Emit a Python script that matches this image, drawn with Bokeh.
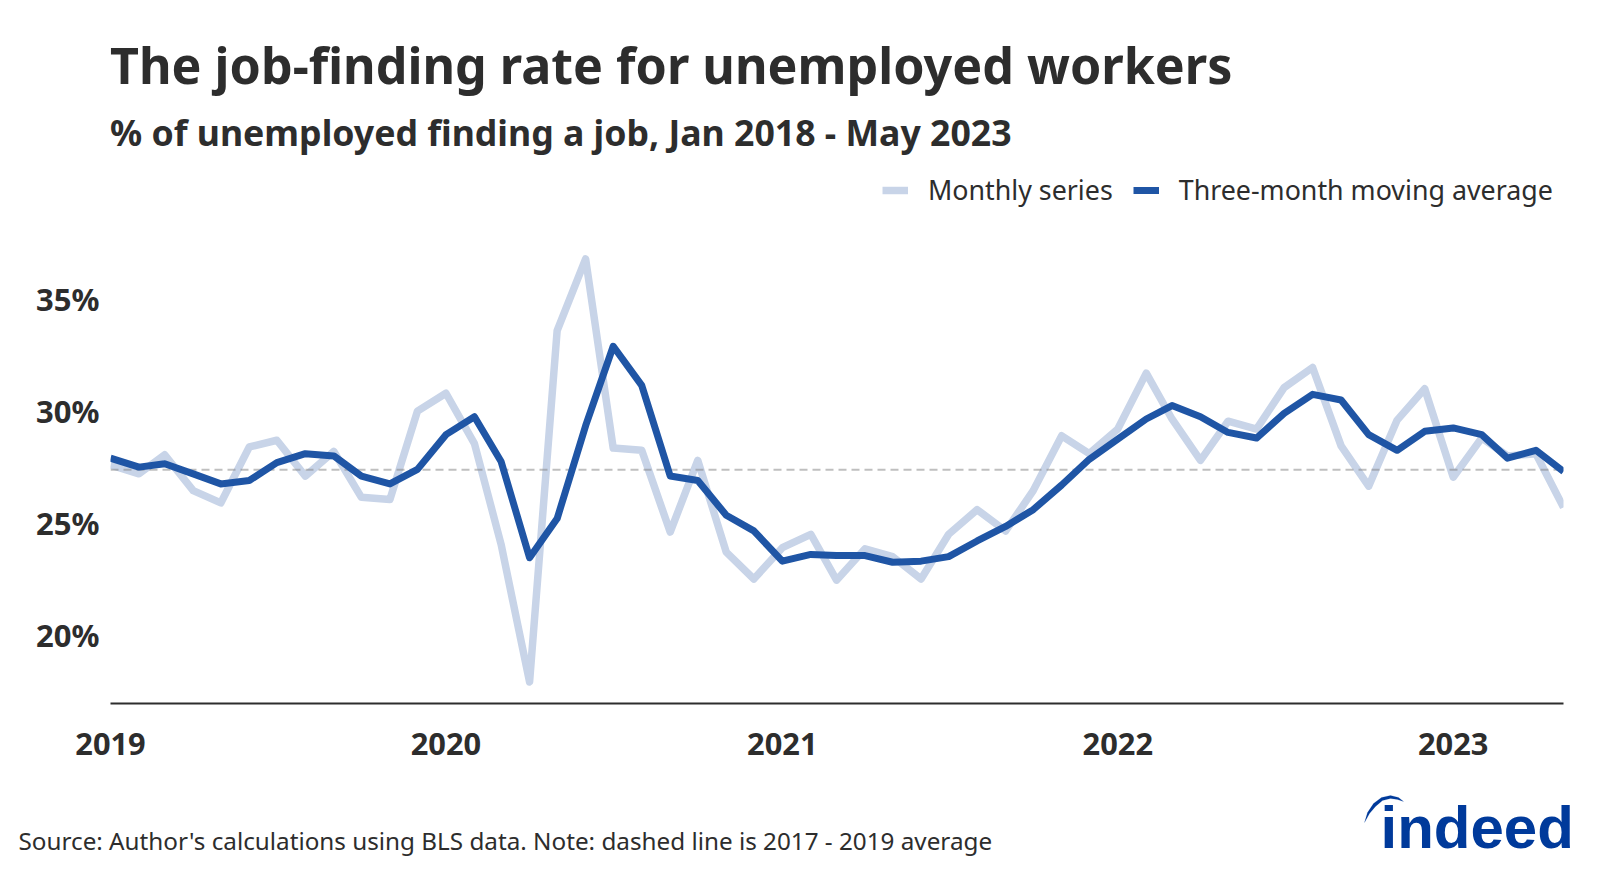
import pandas as pd
from bokeh.plotting import figure
from bokeh.layouts import column
from bokeh.embed import file_html
from bokeh.resources import INLINE
from bokeh.models import (ColumnDataSource, Label, Legend, LegendItem, FixedTicker, LinearAxis,
                          DatetimeTickFormatter, Range1d, PolyAnnotation)

title = "The job-finding rate for unemployed workers"
subtitle = "% of unemployed finding a job, Jan 2018 - May 2023"
source_note = "Source: Author's calculations using BLS data. Note: dashed line is 2017 - 2019 average"
series_names = ["Monthly series", "Three-month moving average"]
months = pd.date_range("2019-01-01", "2023-05-01", freq="MS")
monthly = [27.7, 27.3, 28.15, 26.55, 26.0, 28.5, 28.8, 27.2, 28.3, 26.25, 26.15, 30.1,
           30.9, 28.65, 24.15, 18.0, 33.7, 36.9, 28.45, 28.35, 24.7, 27.9, 23.8, 22.6,
           24.0, 24.6, 22.55, 23.95, 23.6, 22.6, 24.6, 25.7, 24.75, 26.55, 29.0, 28.2,
           29.3, 31.8, 29.75, 27.9, 29.65, 29.3, 31.15, 32.05, 28.55, 26.75, 29.7, 31.1,
           27.15, 28.9, 28.1, 28.2, 25.8]
moving_avg = [28.0, 27.6, 27.75, 27.3, 26.85, 27.0, 27.8, 28.2, 28.1, 27.2, 26.85, 27.5,
              29.05, 29.85, 27.85, 23.55, 25.3, 29.45, 33.0, 31.25, 27.2, 27.0, 25.45, 24.75,
              23.4, 23.7, 23.65, 23.65, 23.35, 23.4, 23.6, 24.3, 24.95, 25.7, 26.8, 27.95,
              28.85, 29.75, 30.35, 29.85, 29.15, 28.9, 30.0, 30.85, 30.6, 29.05, 28.35, 29.2,
              29.35, 29.05, 28.0, 28.35, 27.4]
baseline = 27.48
y_ticks = [20, 25, 30, 35]
x_ticks = pd.to_datetime(["2019-01-01", "2020-01-01", "2021-01-01", "2022-01-01", "2023-01-01"])

DARK = "#2d2d2d"
FONT = "Noto Sans"
W, H = 1600, 873
L, R, B = 110, 1563, 703
HEAD_H, FOOT_Y = 168, 775
Y0, Y1 = 17.04, 40.94
LABEL_NUDGE = 0.09


def blank(height):
    f = figure(width=W, height=height, output_backend="svg", toolbar_location=None,
               x_axis_location=None, y_axis_location=None,
               x_range=Range1d(0, W), y_range=Range1d(0, height), frame_align=False,
               min_border=0, background_fill_color="white", border_fill_color="white")
    f.outline_line_color = None
    f.grid.visible = False
    return f


def text(f, top, s, x, y, size, bold=False, color=DARK, font=FONT):
    f.add_layout(Label(x=x, y=f.height - (y - top), x_units="screen", y_units="screen", text=s,
                       text_font=font, text_font_size=f"{size}px", text_color=color,
                       text_font_style="bold" if bold else "normal", text_baseline="alphabetic"))


head = blank(HEAD_H)
text(head, 0, title, 109.5, 63.6, 50.2, True)
text(head, 0, subtitle, 109.5, 131.7, 35.65, True)

p = figure(width=W, height=FOOT_Y - HEAD_H, output_backend="svg", toolbar_location=None,
           x_axis_type="datetime", frame_align=False, y_axis_location=None,
           x_range=Range1d(months[0], months[-1]),
           y_range=Range1d(Y0, Y1),
           min_border_left=L, min_border_right=W - R, min_border_top=0, min_border_bottom=FOOT_Y - B,
           background_fill_color="white", border_fill_color="white")
p.outline_line_color = None
p.grid.visible = False
p.extra_y_ranges = {"labels": Range1d(Y0 - LABEL_NUDGE, Y1 - LABEL_NUDGE)}

src = ColumnDataSource(dict(x=months, monthly=monthly, ma=moving_avg, base=[baseline] * len(monthly)))
r1 = p.line("x", "monthly", source=src, line_color="#c8d4e8", line_width=7.5, line_join="round")
p.line("x", "base", source=src, line_color="#808080", line_alpha=0.5, line_width=2, line_dash=[8, 5])
r2 = p.line("x", "ma", source=src, line_color="#1f55a5", line_width=7, line_join="round")

xa = p.xaxis[0]
xa.ticker = FixedTicker(ticks=[t.timestamp() * 1000 for t in x_ticks])
xa.formatter = DatetimeTickFormatter(years="%Y", months="%Y", days="%Y", hours="%Y", minutes="%Y",
                                     seconds="%Y", milliseconds="%Y", microseconds="%Y")
xa.axis_line_color = DARK
xa.axis_line_width = 2
xa.major_tick_line_color = None
xa.minor_tick_line_color = None
xa.major_label_text_font = FONT
xa.major_label_text_font_style = "bold"
xa.major_label_text_font_size = "30.8px"
xa.major_label_text_color = DARK
xa.major_label_standoff = 23

ya = LinearAxis(y_range_name="labels", ticker=FixedTicker(ticks=y_ticks))
ya.major_label_overrides = {v: f"{v}%" for v in y_ticks}
ya.axis_line_color = None
ya.major_tick_line_color = None
ya.minor_tick_line_color = None
ya.major_label_text_font = FONT
ya.major_label_text_font_style = "bold"
ya.major_label_text_font_size = "31px"
ya.major_label_text_color = DARK
ya.major_label_standoff = 5
p.add_layout(ya, "left")

legend = Legend(items=[LegendItem(label=series_names[0], renderers=[r1]),
                       LegendItem(label=series_names[1], renderers=[r2])],
                orientation="horizontal", location=(772, 495), background_fill_alpha=0,
                border_line_color=None, glyph_width=26, glyph_height=20, label_standoff=20,
                spacing=20, margin=0, padding=0, label_text_font=FONT,
                label_text_font_size="26.8px", label_text_color=DARK)
p.add_layout(legend, "center")

foot = blank(H - FOOT_Y)
text(foot, FOOT_Y, source_note, 18, 839.8, 24.25)
text(foot, FOOT_Y, "indeed", 1380, 827, 60, True, "#003a9b", "Liberation Sans")
arc_x = [1364, 1367, 1373, 1381, 1390, 1398, 1403, 1397, 1390, 1382, 1375, 1369]
arc_y = [822, 812, 803, 797, 795, 797, 801, 799, 798, 800, 806, 813]
foot.add_layout(PolyAnnotation(xs=arc_x, ys=[H - v for v in arc_y],
                               xs_units="screen", ys_units="screen",
                               fill_color="#003a9b", fill_alpha=1, line_color="#003a9b", line_width=0.5))

page = column(head, p, foot, spacing=0)
open("out.html", "w").write(file_html(page, INLINE))
